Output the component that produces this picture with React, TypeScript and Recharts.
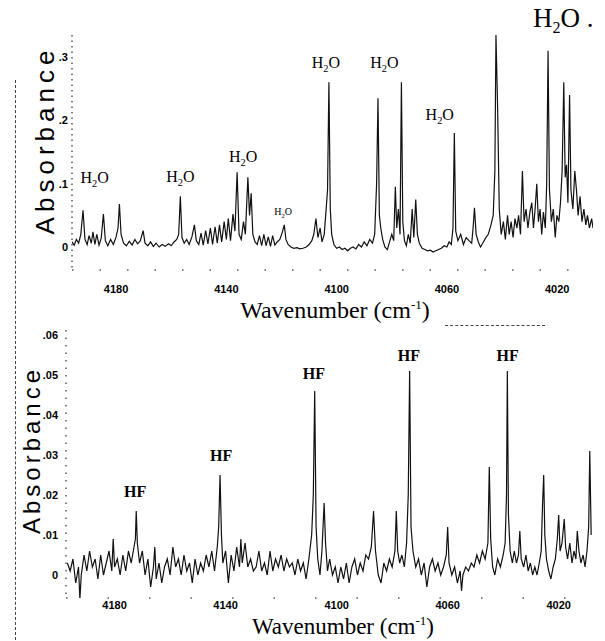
import React from 'react'
import { LineChart, Line, XAxis, YAxis, ReferenceDot } from 'recharts'

const topSpectrum: [number, number][] = [
  [4196, 0.008], [4195.2, 0.003], [4194.4, 0.012], [4193.6, 0.006], [4192.8, 0.02], [4192, 0.058],
  [4191.3, 0.012], [4190.5, 0.004], [4189.8, 0.018], [4189, 0.006], [4188.4, 0.024], [4187.7, 0.004],
  [4187, 0.02], [4186.2, 0.003], [4185.4, 0.014], [4184.6, 0.052], [4183.9, 0.01], [4183, 0.002],
  [4182, 0.012], [4181, 0.004], [4180, 0.016], [4179.3, 0.03], [4178.8, 0.068], [4178.2, 0.02],
  [4177.3, 0.006], [4176.3, 0.002], [4175.2, 0.009], [4174.2, 0.003], [4173.2, 0.012], [4172.2, 0.005],
  [4171.2, 0.01], [4170.2, 0.026], [4169.5, 0.006], [4168.5, 0.002], [4167.5, 0.008], [4166.5, 0.001],
  [4165.5, 0.006], [4164.4, 0.0], [4163.3, 0.004], [4162.2, 0.001], [4161, 0.005], [4160, 0.002],
  [4159, 0.008], [4158, 0.012], [4157.3, 0.02], [4156.7, 0.08], [4156.1, 0.015], [4155.3, 0.006],
  [4154.4, 0.012], [4153.5, 0.004], [4152.5, 0.016], [4151.6, 0.035], [4150.9, 0.01], [4150, 0.004],
  [4149.2, 0.022], [4148.4, 0.003], [4147.5, 0.026], [4146.7, 0.005], [4145.8, 0.03], [4145, 0.004],
  [4144.1, 0.032], [4143.3, 0.006], [4142.5, 0.035], [4141.7, 0.008], [4140.8, 0.04], [4140, 0.012],
  [4139.3, 0.045], [4138.5, 0.01], [4137.6, 0.052], [4136.9, 0.025], [4136.1, 0.118], [4135.4, 0.02],
  [4134.6, 0.012], [4133.8, 0.04], [4133.1, 0.02], [4132.2, 0.11], [4131.6, 0.05], [4131, 0.085],
  [4130.4, 0.02], [4129.6, 0.008], [4128.8, 0.004], [4128, 0.018], [4127.2, 0.002], [4126.4, 0.02],
  [4125.6, 0.002], [4124.8, 0.016], [4124, 0.001], [4123.2, 0.018], [4122.4, 0.003], [4121.6, 0.008],
  [4120.6, 0.012], [4119.8, 0.022], [4119, 0.035], [4118.4, 0.012], [4117.6, 0.004], [4116.6, 0.0],
  [4115.5, -0.002], [4114.4, -0.001], [4113.3, -0.003], [4112.2, -0.002], [4111, 0.0], [4110, 0.004],
  [4109, 0.01], [4108.3, 0.02], [4107.5, 0.045], [4106.8, 0.015], [4106, 0.03], [4105.3, 0.008],
  [4104.5, 0.02], [4103.8, 0.06], [4103.3, 0.09], [4102.8, 0.26], [4102.3, 0.06], [4101.8, 0.02],
  [4101, 0.004], [4100, -0.002], [4099, 0.0], [4098, -0.004], [4097, -0.002], [4096, -0.006],
  [4095, -0.002], [4094, 0.0], [4093, -0.003], [4092, 0.004], [4091, 0.0], [4090, 0.008],
  [4089, 0.002], [4088, 0.012], [4087, 0.006], [4086.2, 0.02], [4085.5, 0.1], [4085, 0.235],
  [4084.5, 0.05], [4084, 0.03], [4083.3, 0.012], [4082.5, 0.0], [4081.6, -0.004], [4080.8, 0.008],
  [4080, 0.02], [4079.3, 0.01], [4078.7, 0.095], [4078.2, 0.03], [4077.6, 0.06], [4077, 0.02],
  [4076.5, 0.26], [4076, 0.04], [4075.4, 0.01], [4074.7, 0.002], [4074, 0.02], [4073.3, 0.006],
  [4072.6, 0.06], [4072, 0.015], [4071.3, 0.075], [4070.7, 0.02], [4070, 0.006], [4069, -0.002],
  [4068, -0.004], [4067, -0.006], [4066, -0.005], [4065, -0.008], [4064, -0.006], [4063, -0.004],
  [4062, -0.002], [4061, 0.002], [4060, 0.0], [4059.2, 0.008], [4058.4, 0.004], [4057.8, 0.03],
  [4057.3, 0.18], [4056.8, 0.025], [4056, 0.01], [4055, 0.02], [4054, 0.004], [4053, 0.015],
  [4052, 0.01], [4051, 0.006], [4050.5, 0.03], [4050, 0.062], [4049.4, 0.02], [4048.6, 0.008],
  [4047.8, 0.0], [4047, 0.006], [4046, 0.014], [4045, 0.02], [4044, 0.035], [4043.2, 0.05],
  [4042.6, 0.12], [4042.2, 0.335], [4041.6, 0.22], [4041, 0.06], [4040.3, 0.02], [4039.5, 0.04],
  [4038.8, 0.012], [4038, 0.05], [4037.4, 0.02], [4036.7, 0.04], [4036, 0.015], [4035.3, 0.045],
  [4034.6, 0.03], [4034, 0.05], [4033.3, 0.02], [4032.6, 0.12], [4032, 0.04], [4031.3, 0.06],
  [4030.6, 0.03], [4029.9, 0.055], [4029.2, 0.07], [4028.6, 0.03], [4028, 0.06], [4027.4, 0.1],
  [4026.8, 0.04], [4026.2, 0.06], [4025.6, 0.02], [4025, 0.055], [4024.3, 0.03], [4023.8, 0.1],
  [4023.3, 0.31], [4022.8, 0.09], [4022.1, 0.04], [4021.4, 0.06], [4020.7, 0.015], [4020.1, 0.05],
  [4019.4, 0.04], [4018.8, 0.07], [4018.2, 0.12], [4017.6, 0.26], [4017.1, 0.11], [4016.6, 0.13],
  [4016.1, 0.07], [4015.5, 0.24], [4015, 0.09], [4014.3, 0.06], [4013.6, 0.12], [4013, 0.09],
  [4012.4, 0.05], [4011.7, 0.08], [4011, 0.04], [4010.3, 0.06], [4009.6, 0.035], [4009, 0.05],
  [4008.3, 0.03], [4007.5, 0.045], [4007, 0.03],
]

// lower (HF) trace
const bottomSpectrum: [number, number][] = [
  [4197, 0.003], [4196, 0.001], [4195, 0.004], [4194, -0.002], [4193, 0.002], [4192.5, -0.006],
  [4192, 0.0], [4191, 0.005], [4190, 0.001], [4189, 0.006], [4188, 0.002], [4187, 0.004],
  [4186, -0.001], [4185, 0.005], [4184, 0.0], [4183, 0.003], [4182, 0.006], [4181, 0.001],
  [4180.5, 0.009], [4180, 0.002], [4179, 0.004], [4178, 0.0], [4177, 0.005], [4176, 0.001],
  [4175, 0.006], [4174, 0.003], [4173, 0.007], [4172.5, 0.009], [4172.2, 0.016], [4171.8, 0.008],
  [4171, 0.003], [4170, 0.006], [4169, 0.0], [4168, 0.004], [4167, -0.003], [4166, 0.002],
  [4165.5, 0.007], [4165, -0.001], [4164, 0.003], [4163, -0.002], [4162, 0.002], [4161, 0.004],
  [4160, 0.0], [4159, 0.007], [4158, 0.002], [4157, 0.004], [4156, 0.0], [4155, 0.005],
  [4154, 0.001], [4153, 0.003], [4152, -0.002], [4151, 0.004], [4150, 0.0], [4149, 0.003],
  [4148, 0.001], [4147, 0.005], [4146, 0.002], [4145, 0.006], [4144, 0.001], [4143, 0.007],
  [4142.5, 0.012], [4142, 0.025], [4141.5, 0.01], [4141, 0.003], [4140, 0.006], [4139, -0.002],
  [4138, 0.005], [4137, 0.001], [4136, 0.007], [4135, 0.002], [4134.5, 0.009], [4134, 0.003],
  [4133, 0.008], [4132, 0.002], [4131, 0.004], [4130, 0.001], [4129, 0.002], [4128, 0.006],
  [4127, 0.001], [4126, 0.003], [4125, 0.0], [4124, 0.006], [4123, 0.001], [4122, 0.004],
  [4121, 0.002], [4120, 0.005], [4119, 0.001], [4118, 0.004], [4117, 0.002], [4116, 0.003],
  [4115, 0.0], [4114, 0.004], [4113, 0.001], [4112, 0.003], [4111, -0.001], [4110, 0.004],
  [4109, 0.01], [4108.4, 0.02], [4107.9, 0.046], [4107.4, 0.012], [4106.8, 0.004], [4106, 0.0],
  [4105.3, 0.006], [4104.5, 0.018], [4104, 0.008], [4103.3, 0.001], [4102.5, 0.004], [4101.5, 0.0],
  [4100.5, 0.002], [4099.5, -0.002], [4098.5, 0.002], [4097.5, -0.001], [4096.5, 0.003], [4095.5, -0.002],
  [4094.5, 0.002], [4093.5, 0.004], [4092.5, 0.0], [4091.5, 0.003], [4090.5, 0.001], [4089.5, 0.005],
  [4088.5, 0.004], [4087.5, 0.007], [4086.7, 0.016], [4086, 0.006], [4085, 0.0], [4084, -0.002],
  [4083, 0.003], [4082, 0.001], [4081, 0.004], [4080, 0.002], [4079, 0.006], [4078.5, 0.016],
  [4078, 0.006], [4077.3, 0.003], [4076.5, 0.005], [4075.6, 0.002], [4074.8, 0.008], [4074.2, 0.02],
  [4073.7, 0.051], [4073.2, 0.012], [4072.5, 0.006], [4071.5, 0.002], [4070.5, 0.004], [4069.5, 0.0],
  [4068.5, 0.003], [4067.5, -0.003], [4066.5, 0.002], [4065.5, 0.004], [4064.5, 0.001], [4063.5, 0.003],
  [4062.5, 0.0], [4061.5, 0.002], [4060.5, 0.005], [4060, 0.012], [4059.5, 0.003], [4058.5, 0.0],
  [4057.5, 0.002], [4056.5, -0.002], [4055.5, 0.001], [4055, -0.004], [4054.5, 0.0], [4053.5, 0.002],
  [4052.5, 0.001], [4051.5, 0.003], [4050.5, 0.002], [4049.5, 0.005], [4048.5, 0.003], [4047.5, 0.006],
  [4046.5, 0.004], [4045.5, 0.008], [4045, 0.027], [4044.5, 0.009], [4043.8, 0.002], [4043, 0.0],
  [4042, 0.004], [4041, 0.002], [4040, 0.005], [4039.3, 0.008], [4038.8, 0.02], [4038.5, 0.051],
  [4038.1, 0.015], [4037.5, 0.006], [4036.7, 0.003], [4036, 0.006], [4035.2, 0.003], [4034.5, 0.005],
  [4034, 0.011], [4033.5, 0.004], [4032.6, 0.002], [4031.8, 0.005], [4031, 0.001], [4030.2, 0.003],
  [4029.4, 0.0], [4028.6, 0.002], [4027.8, 0.0], [4027, 0.003], [4026.3, 0.006], [4025.8, 0.018],
  [4025.4, 0.025], [4025, 0.01], [4024.4, 0.004], [4023.6, 0.001], [4022.8, -0.001], [4022, 0.002],
  [4021.2, 0.004], [4020.5, 0.009], [4020, 0.015], [4019.5, 0.006], [4018.8, 0.008], [4018, 0.014],
  [4017.5, 0.007], [4016.8, 0.004], [4016, 0.008], [4015.2, 0.003], [4014.5, 0.006], [4013.8, 0.004],
  [4013.3, 0.011], [4012.7, 0.006], [4012, 0.003], [4011.2, 0.005], [4010.5, 0.002], [4009.8, 0.006],
  [4009.2, 0.012], [4008.8, 0.031], [4008.3, 0.01],
]

const xTicks = [4180, 4140, 4100, 4060, 4020]
const topYTicks = [0, 0.1, 0.2, 0.3]
const topYLabels = ['0', '.1', '.2', '.3']
const bottomYTicks = [0, 0.01, 0.02, 0.03, 0.04, 0.05, 0.06]
const bottomYLabels = ['0', '.01', '.02', '.03', '.04', '.05', '.06']

// annotation anchors (wavenumber, absorbance at text baseline)
const h2oLabels: [number, number][] = [
  [4187.8, 0.101], [4156.7, 0.103], [4133.9, 0.134], [4103.9, 0.283], [4082.7, 0.283], [4062.6, 0.2],
]
const h2oSmallLabels: [number, number][] = [[4119.4, 0.05]]
const hfLabels: [number, number][] = [
  [4172.6, 0.0195], [4141.6, 0.0285], [4108.2, 0.049], [4074.0, 0.0535], [4038.4, 0.0535],
]

const topRows = topSpectrum.map(([wn, abs]) => ({ wn, abs }))
const bottomRows = bottomSpectrum.map(([wn, abs]) => ({ wn, abs }))

const serif = '"Liberation Serif", "Times New Roman", serif'
const sans = '"Liberation Sans", Arial, sans-serif'

const H2OText = (props: any) => {
  const { viewBox, size } = props
  return (
    <text x={viewBox.x} y={viewBox.y} textAnchor="middle" fontFamily={serif} fontSize={size} fill="#000">
      H<tspan dy={size * 0.25} fontSize={size * 0.65}>2</tspan>
      <tspan dy={-size * 0.25}>O</tspan>
    </text>
  )
}

const HFText = (props: any) => {
  const { viewBox } = props
  return (
    <text x={viewBox.x} y={viewBox.y} textAnchor="middle" fontFamily={serif} fontSize={16} fontWeight="bold" fill="#000">
      HF
    </text>
  )
}

const tickStyle = { fontSize: 11, fontWeight: 'bold', fill: '#000', fontFamily: sans }

const titleStyle: React.CSSProperties = {
  position: 'absolute', left: 0, textAlign: 'center', fontFamily: serif,
  lineHeight: '20px', whiteSpace: 'nowrap', color: '#000',
}

const App = () => {
  return (
    <div style={{ position: 'absolute', left: 0, top: 0, width: 605, height: 641, background: '#fff', overflow: 'hidden' }}>
      <div style={{ position: 'absolute', left: 0, top: 0 }}>
        <LineChart width={605} height={320} data={topRows} margin={{ top: 35, right: 12, bottom: 0, left: 0 }}>
          <XAxis
            type="number"
            dataKey="wn"
            domain={[4007, 4196]}
            reversed
            allowDataOverflow
            ticks={xTicks}
            interval={0}
            height={50}
            tickSize={0}
            tickMargin={15}
            tickLine={false}
            axisLine={{ stroke: '#000', strokeDasharray: '1.5 26' }}
            tick={tickStyle}
          />
          <YAxis
            type="number"
            domain={[-0.0363, 0.3348]}
            allowDataOverflow
            ticks={topYTicks}
            interval={0}
            width={72}
            tickSize={0}
            tickMargin={4}
            tickLine={false}
            tickFormatter={(_v: number, i: number) => topYLabels[i]}
            axisLine={{ stroke: '#000', strokeDasharray: '1.5 4' }}
            tick={tickStyle}
          />
          <Line type="linear" dataKey="abs" stroke="#111" strokeWidth={1.2} dot={false} isAnimationActive={false} />
          {h2oLabels.map(([wn, abs], i) => (
            <ReferenceDot key={'h' + i} x={wn} y={abs} r={0} fill="none" stroke="none" label={<H2OText size={16} />} />
          ))}
          {h2oSmallLabels.map(([wn, abs], i) => (
            <ReferenceDot key={'s' + i} x={wn} y={abs} r={0} fill="none" stroke="none" label={<H2OText size={10} />} />
          ))}
        </LineChart>
      </div>

      <div style={{ position: 'absolute', left: 0, top: 320 }}>
        <LineChart width={605} height={321} data={bottomRows} margin={{ top: 10, right: 13, bottom: 0, left: 0 }}>
          <XAxis
            type="number"
            dataKey="wn"
            domain={[4008, 4197.5]}
            reversed
            allowDataOverflow
            ticks={xTicks}
            interval={0}
            height={43}
            tickSize={0}
            tickMargin={3}
            tickLine={false}
            axisLine={{ stroke: '#000', strokeDasharray: '1.5 40' }}
            tick={tickStyle}
          />
          <YAxis
            type="number"
            domain={[-0.00575, 0.06125]}
            allowDataOverflow
            ticks={bottomYTicks}
            interval={0}
            width={66}
            tickSize={0}
            tickMargin={8}
            tickLine={false}
            tickFormatter={(_v: number, i: number) => bottomYLabels[i]}
            axisLine={{ stroke: '#000', strokeDasharray: '1.5 6' }}
            tick={tickStyle}
          />
          <Line type="linear" dataKey="abs" stroke="#111" strokeWidth={1.2} dot={false} isAnimationActive={false} />
          {hfLabels.map(([wn, abs], i) => (
            <ReferenceDot key={'f' + i} x={wn} y={abs} r={0} fill="none" stroke="none" label={<HFText />} />
          ))}
        </LineChart>
      </div>

      {/* axis titles */}
      <div style={{ ...titleStyle, width: 670, top: 300, fontSize: 24 }}>
        Wavenumber (cm<span style={{ fontSize: 13, position: 'relative', top: -9 }}>-1</span>)
      </div>
      <div style={{ ...titleStyle, width: 686, top: 617, fontSize: 23 }}>
        Wavenumber (cm<span style={{ fontSize: 13, position: 'relative', top: -9 }}>-1</span>)
      </div>
      <div style={{ position: 'absolute', left: 45, top: 140, transform: 'translate(-50%, -50%) rotate(-90deg)', fontFamily: sans, fontSize: 26, letterSpacing: 5, whiteSpace: 'nowrap', color: '#000' }}>
        Absorbance
      </div>
      <div style={{ position: 'absolute', left: 32, top: 450, transform: 'translate(-50%, -50%) rotate(-90deg)', fontFamily: sans, fontSize: 24, letterSpacing: 4, whiteSpace: 'nowrap', color: '#000' }}>
        Absorbance
      </div>

      {/* corner annotation */}
      <div style={{ position: 'absolute', left: 533, top: 5, fontFamily: serif, fontSize: 27, lineHeight: '27px', whiteSpace: 'nowrap', color: '#000' }}>
        H<span style={{ fontSize: 16, position: 'relative', top: 6 }}>2</span>O .
      </div>

      {/* scan edge */}
      <div style={{ position: 'absolute', left: 15, top: 80, height: 560, borderLeft: '1px dashed #444' }} />
      <div style={{ position: 'absolute', left: 445, top: 325, width: 100, borderTop: '1px dashed #444' }} />
    </div>
  )
}

export default App
